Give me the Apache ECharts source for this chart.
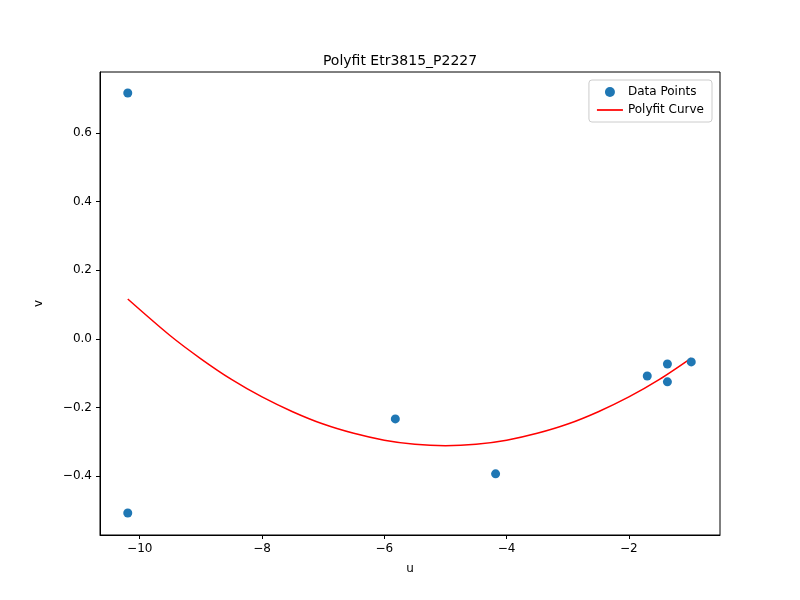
<!DOCTYPE html>
<html><head><meta charset="utf-8">
<script src="https://cdn.jsdelivr.net/npm/echarts@6/dist/echarts.min.js"></script>
<style>html,body{margin:0;padding:0;background:#fff}#c{width:800px;height:600px}</style>
</head><body><div id="c"></div>
<script>
const pointsU = [-10.196, -10.196, -5.82, -4.18, -1.70, -1.37, -1.37, -0.98];
const pointsV = [0.716, -0.507, -0.233, -0.393, -0.108, -0.073, -0.125, -0.067];
const curveU = [-10.196, -9.5, -9, -8.5, -8, -7.5, -7, -6.5, -6, -5.5, -5, -4.5, -4, -3.5, -3, -2.5, -2, -1.5, -0.98];
const curveV = [0.116, 0.009, -0.058, -0.118, -0.169, -0.212, -0.248, -0.275, -0.295, -0.307, -0.311, -0.307, -0.295, -0.275, -0.248, -0.212, -0.169, -0.118, -0.056];
const xTicks = [-10, -8, -6, -4, -2];
const yTicks = [-0.4, -0.2, 0, 0.2, 0.4, 0.6];
const font = 'DejaVu Sans';
const chart = echarts.init(document.getElementById('c'));
const lbl = {color: '#000', fontFamily: font, fontSize: 12};
chart.setOption({
  animation: false,
  title: {text: 'Polyfit Etr3815_P2227', left: 'center', top: 49,
    textStyle: {fontFamily: font, fontSize: 14, fontWeight: 'normal', color: '#000'}},
  grid: {left: 100, right: 80, top: 72, bottom: 65, show: true, borderColor: '#000', borderWidth: 1},
  legend: {right: 88, top: 80, orient: 'vertical', itemGap: 6, itemWidth: 26, itemHeight: 10,
    backgroundColor: '#fff', borderColor: '#ccc', borderWidth: 1, borderRadius: 3, padding: [6, 8],
    textStyle: {fontFamily: font, fontSize: 12, color: '#000'},
    data: [{name: 'Data Points', icon: 'circle'}, {name: 'Polyfit Curve', icon: 'path://M0,0H30V2H0Z'}]},
  xAxis: {type: 'value', min: -10.65, max: -0.51,
    name: 'u', nameLocation: 'middle', nameGap: 28, nameTextStyle: lbl,
    axisLine: {show: true, onZero: false, lineStyle: {color: '#000'}},
    splitLine: {show: false},
    axisLabel: Object.assign({customValues: xTicks, formatter: v => String(Math.round(v)).replace('-', '\u2212')}, lbl),
    axisTick: {show: true, length: 4, lineStyle: {color: '#000'}, customValues: xTicks}},
  yAxis: {type: 'value', min: -0.571, max: 0.777,
    name: 'v', nameLocation: 'middle', nameGap: 55, nameTextStyle: lbl,
    axisLine: {show: true, onZero: false, lineStyle: {color: '#000'}},
    splitLine: {show: false},
    axisLabel: Object.assign({customValues: yTicks, formatter: v => v.toFixed(1).replace('-', '\u2212')}, lbl),
    axisTick: {show: true, length: 4, lineStyle: {color: '#000'}, customValues: yTicks}},
  series: [
    {name: 'Data Points', type: 'scatter', symbolSize: 9, itemStyle: {color: '#1f77b4', opacity: 1},
      data: pointsU.map((u, i) => [u, pointsV[i]]), z: 3},
    {name: 'Polyfit Curve', type: 'line', smooth: 0.3, showSymbol: false, symbol: 'none',
      lineStyle: {color: '#ff0000', width: 1.5}, itemStyle: {color: '#ff0000'},
      data: curveU.map((u, i) => [u, curveV[i]])}
  ]
});
</script></body></html>
